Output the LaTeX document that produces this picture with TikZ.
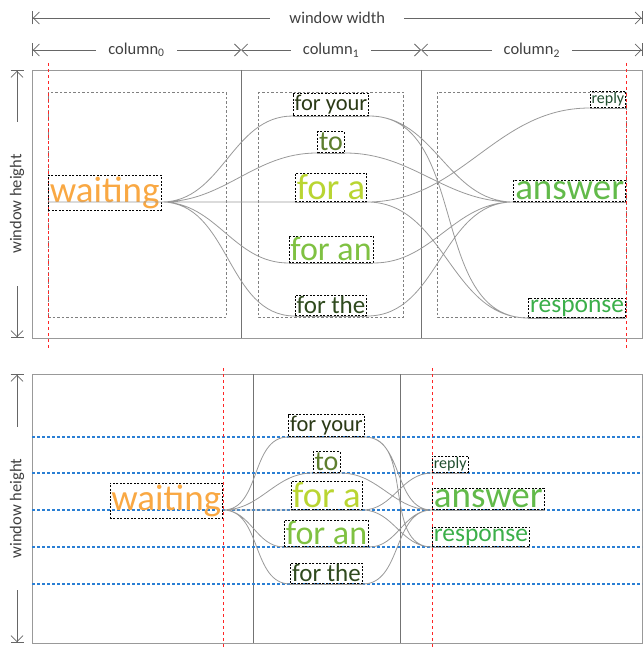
\documentclass[tikz,border=0pt]{standalone}
\usepackage{fontspec}
\setmainfont{Carlito}
\usetikzlibrary{arrows.meta}

\definecolor{cWait}{HTML}{F9A843}
\definecolor{cYour}{HTML}{2B3A16}
\definecolor{cTo}{HTML}{5E7E2E}
\definecolor{cForA}{HTML}{B9D532}
\definecolor{cForAn}{HTML}{7FC142}
\definecolor{cThe}{HTML}{2F4A1E}
\definecolor{cReply}{HTML}{1F4D2E}
\definecolor{cAnswer}{HTML}{62BA4A}
\definecolor{cResp}{HTML}{3BAF4A}
\definecolor{cGrid}{HTML}{2A7FD4}

\newcommand{\wsize}[1]{\fontsize{#1}{#1}\selectfont}

\begin{document}
\begin{tikzpicture}[
  x=1pt, y=-1pt,
  dim/.style={
    draw=black!60,
    line width=0.8pt,
    {Bar[width=13pt]Straight Barb[length=6pt,width=12pt]}-{Straight Barb[length=6pt,width=12pt]Bar[width=13pt]}
  },
  dimL/.style={dim, {Bar[width=13pt]Straight Barb[length=6pt,width=12pt]}-{Straight Barb[length=6pt,width=12pt]}},
  dimM/.style={dim, {Straight Barb[length=6pt,width=12pt]}-{Straight Barb[length=6pt,width=12pt]}},
  dimR/.style={dim, {Straight Barb[length=6pt,width=12pt]}-{Straight Barb[length=6pt,width=12pt]Bar[width=13pt]}},
  dimlabel/.style={fill=white, inner xsep=12pt, text=black!75, font=\wsize{16.5}},
  frame/.style={draw=black!40, line width=0.9pt},
  colline/.style={draw=black!55, line width=0.9pt},
  pad/.style={draw=black!50, line width=0.6pt, dash pattern=on 2.5pt off 2pt},
  guide/.style={draw=red!85, line width=0.8pt, dash pattern=on 3pt off 3pt},
  gridline/.style={draw=cGrid, line width=1.1pt, dash pattern=on 3pt off 2pt},
  word/.style={draw=black, line width=0.7pt, dash pattern=on 2pt off 1.5pt, inner sep=1.5pt},
  link/.style={draw=black!40, line width=0.8pt},
  wWait/.style={word, text=cWait, font=\wsize{37}},
  wYour/.style={word, text=cYour, font=\wsize{22.5}},
  wTo/.style={word, text=cTo, font=\wsize{28}},
  wForA/.style={word, text=cForA, font=\wsize{36.6}},
  wForAn/.style={word, text=cForAn, font=\wsize{34}},
  wThe/.style={word, text=cThe, font=\wsize{25}},
  wReply/.style={word, text=cReply, font=\wsize{16}},
  wAnswer/.style={word, text=cAnswer, font=\wsize{37}},
  wResp/.style={word, text=cResp, font=\wsize{25.5}}
]
\useasboundingbox (0,0) rectangle (644,650);

% sizes
\draw[dim] (32,18) -- node[dimlabel, inner xsep=19pt] (wwidth) {window width} (642.5,18);
\draw[dimL] (32,50) -- node[dimlabel] (col0) {column\textsubscript{0}} (241,50);
\draw[dimM] (241,50) -- node[dimlabel] (col1) {column\textsubscript{1}} (421,50);
\draw[dimR] (421,50) -- node[dimlabel] (col2) {column\textsubscript{2}} (642.5,50);
\draw[dim] (17,70) -- node[dimlabel, rotate=90, inner xsep=32pt] (hA) {window height} (17,338);
\draw[dim] (17,374) -- node[dimlabel, rotate=90, inner xsep=32pt] (hB) {window height} (17,643);

% upper window
\draw[frame] (32,70) rectangle (642,338);
\draw[colline] (241,70) -- (241,338) (421,70) -- (421,338);
\draw[pad] (48,92) rectangle (226,317);
\draw[pad] (258,92) rectangle (403,317);
\draw[pad] (437,92) rectangle (626,317);
\draw[guide] (48,63) -- (48,348) (626,63) -- (626,348);

\node[wWait, anchor=base west] (waitA) at (48,202) {waiting};
\node[wYour, anchor=south] (yourA) at (331,116) {for your};
\node[wTo, anchor=south] (toA) at (331,153) {to};
\node[wForA, anchor=south] (aA) at (331,202) {for a};
\node[wForAn, anchor=south] (anA) at (331,263) {for an};
\node[wThe, anchor=south] (theA) at (331,316) {for the};
\node[wReply, anchor=south east] (replyA) at (626,108) {reply};
\node[wAnswer, anchor=south east] (answerA) at (626,202) {answer};
\node[wResp, anchor=south east] (respA) at (626,318) {response};

\draw[link] (waitA.base west) -- (waitA.base east)
  (waitA.base east) to[out=0,in=180] (yourA.south west)
  (waitA.base east) to[out=0,in=180] (toA.south west)
  (waitA.base east) to[out=0,in=180] (aA.south west)
  (waitA.base east) to[out=0,in=180] (anA.south west)
  (waitA.base east) to[out=0,in=180] (theA.south west);
\draw[link] (yourA.south west) -- (yourA.south east)
  (toA.south west) -- (toA.south east)
  (aA.south west) -- (aA.south east)
  (anA.south west) -- (anA.south east)
  (theA.south west) -- (theA.south east);
\draw[link] (yourA.south east) to[out=0,in=180] (answerA.south west)
  (yourA.south east) to[out=0,in=180] (respA.south west)
  (toA.south east) to[out=0,in=180] (answerA.south west)
  (aA.south east) to[out=0,in=180] (replyA.south west)
  (aA.south east) to[out=0,in=180] (respA.south west)
  (anA.south east) to[out=0,in=180] (answerA.south west)
  (theA.south east) to[out=0,in=180] (answerA.south west);
\draw[link] (replyA.south west) -- (replyA.south east)
  (answerA.south west) -- (answerA.south east)
  (respA.south west) -- (respA.south east);

% lower window
\draw[frame] (32,374) rectangle (642,643);
\draw[colline] (253,374) -- (253,643) (400,374) -- (400,643);
\draw[gridline] (32,437) -- (642,437) (32,473) -- (642,473) (32,510) -- (642,510)
  (32,547) -- (642,547) (32,584) -- (642,584);
\draw[guide] (223,368) -- (223,647) (432,368) -- (432,647);

\node[wWait, anchor=base east] (waitB) at (223,510) {waiting};
\node[wYour, anchor=south] (yourB) at (326.5,437) {for your};
\node[wTo, anchor=south] (toB) at (326.5,473) {to};
\node[wForA, anchor=south] (aB) at (326.5,510) {for a};
\node[wForAn, anchor=south] (anB) at (326.5,547) {for an};
\node[wThe, anchor=south] (theB) at (326.5,584) {for the};
\node[wReply, anchor=south west] (replyB) at (432,473) {reply};
\node[wAnswer, anchor=south west] (answerB) at (432,510) {answer};
\node[wResp, anchor=south west] (respB) at (432,547) {response};

\draw[link] (waitB.base east) to[out=0,in=180] (yourB.south west)
  (waitB.base east) to[out=0,in=180] (toB.south west)
  (waitB.base east) to[out=0,in=180] (aB.south west)
  (waitB.base east) to[out=0,in=180] (anB.south west)
  (waitB.base east) to[out=0,in=180] (theB.south west);
\draw[link] (yourB.south west) -- (yourB.south east)
  (toB.south west) -- (toB.south east)
  (aB.south west) -- (aB.south east)
  (anB.south west) -- (anB.south east)
  (theB.south west) -- (theB.south east);
\draw[link] (yourB.south east) to[out=0,in=180] (answerB.south west)
  (yourB.south east) to[out=0,in=180] (respB.south west)
  (toB.south east) to[out=0,in=180] (answerB.south west)
  (aB.south east) to[out=0,in=180] (replyB.south west)
  (aB.south east) to[out=0,in=180] (respB.south west)
  (anB.south east) to[out=0,in=180] (answerB.south west)
  (theB.south east) to[out=0,in=180] (answerB.south west);
\draw[link] (replyB.south west) -- (replyB.south east)
  (answerB.south west) -- (answerB.south east)
  (respB.south west) -- (respB.south east);
\end{tikzpicture}
\end{document}
